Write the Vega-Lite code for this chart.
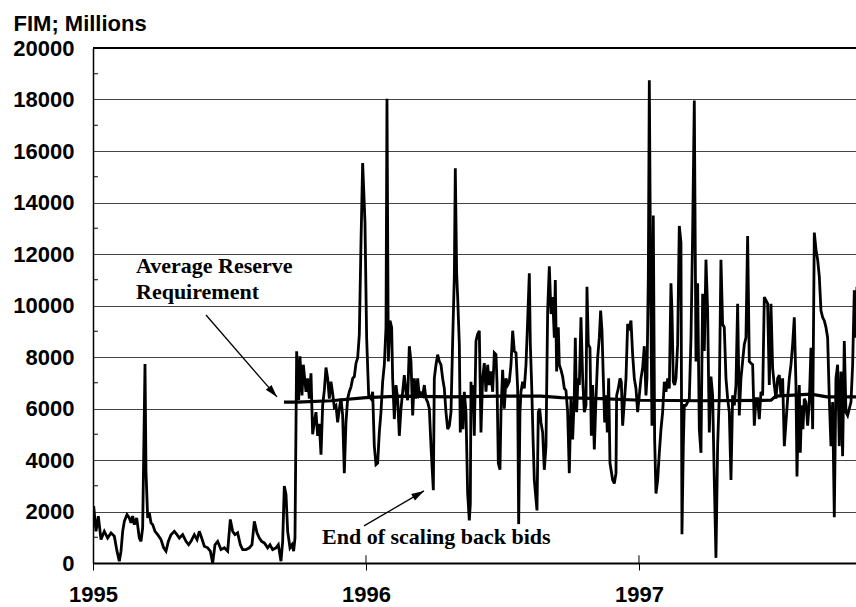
{
  "$schema": "https://vega.github.io/schema/vega-lite/v6.json",
  "autosize": {"type": "none"},
  "padding": {"left": 93, "top": 48, "right": 0, "bottom": 44},
  "width": 763,
  "height": 515,
  "background": "white",
  "config": {"view": {"stroke": null}},
  "datasets": {
    "series": [
      {"t":1995.0025,"v":2210},{"t":1995.011,"v":1230},{"t":1995.0195,"v":1820},{"t":1995.0293,"v":910},{"t":1995.0415,"v":1230},{"t":1995.0537,"v":970},{"t":1995.0659,"v":1170},{"t":1995.0781,"v":1040},{"t":1995.0879,"v":460},{"t":1995.0964,"v":70},{"t":1995.1026,"v":460},{"t":1995.1087,"v":1230},{"t":1995.1148,"v":1620},{"t":1995.1245,"v":1880},{"t":1995.1331,"v":1750},{"t":1995.1392,"v":1560},{"t":1995.1453,"v":1820},{"t":1995.1514,"v":1490},{"t":1995.16,"v":1750},{"t":1995.1697,"v":970},{"t":1995.1758,"v":840},{"t":1995.1819,"v":1360},{"t":1995.1905,"v":7730},{"t":1995.1941,"v":3570},{"t":1995.2003,"v":1750},{"t":1995.2063,"v":1950},{"t":1995.2125,"v":1560},{"t":1995.2186,"v":1490},{"t":1995.2271,"v":1230},{"t":1995.2369,"v":1100},{"t":1995.2491,"v":910},{"t":1995.2589,"v":590},{"t":1995.2674,"v":460},{"t":1995.2759,"v":840},{"t":1995.2857,"v":1100},{"t":1995.2979,"v":1230},{"t":1995.3077,"v":1100},{"t":1995.3162,"v":970},{"t":1995.3285,"v":1100},{"t":1995.3407,"v":840},{"t":1995.3504,"v":710},{"t":1995.359,"v":840},{"t":1995.3712,"v":1100},{"t":1995.381,"v":910},{"t":1995.3895,"v":1230},{"t":1995.3981,"v":970},{"t":1995.4078,"v":650},{"t":1995.42,"v":590},{"t":1995.4298,"v":460},{"t":1995.4384,"v":0},{"t":1995.4469,"v":710},{"t":1995.4567,"v":840},{"t":1995.4689,"v":520},{"t":1995.4811,"v":590},{"t":1995.4933,"v":460},{"t":1995.503,"v":1690},{"t":1995.5116,"v":1230},{"t":1995.5201,"v":1100},{"t":1995.5299,"v":1170},{"t":1995.5397,"v":710},{"t":1995.5482,"v":520},{"t":1995.5604,"v":520},{"t":1995.5726,"v":590},{"t":1995.5824,"v":710},{"t":1995.591,"v":1620},{"t":1995.6007,"v":1170},{"t":1995.6093,"v":970},{"t":1995.6178,"v":840},{"t":1995.6276,"v":780},{"t":1995.6398,"v":590},{"t":1995.6484,"v":710},{"t":1995.6581,"v":520},{"t":1995.6703,"v":590},{"t":1995.6789,"v":710},{"t":1995.6886,"v":70},{"t":1995.6948,"v":840},{"t":1995.7008,"v":2990},{"t":1995.707,"v":2660},{"t":1995.7131,"v":1230},{"t":1995.7216,"v":590},{"t":1995.7289,"v":710},{"t":1995.735,"v":460},{"t":1995.7399,"v":970},
      {"t":1995.746,"v":8220},{"t":1995.7534,"v":6320},{"t":1995.7582,"v":8030},{"t":1995.7656,"v":6510},{"t":1995.7704,"v":7700},{"t":1995.7802,"v":6650},{"t":1995.7863,"v":7170},{"t":1995.7924,"v":6380},{"t":1995.7985,"v":7370},{"t":1995.8046,"v":5000},{"t":1995.8107,"v":5460},{"t":1995.8168,"v":5860},{"t":1995.823,"v":4940},{"t":1995.829,"v":5400},{"t":1995.8352,"v":4210},{"t":1995.8413,"v":6120},{"t":1995.8474,"v":6710},{"t":1995.8535,"v":7590},{"t":1995.8596,"v":7170},{"t":1995.8657,"v":6380},{"t":1995.8718,"v":7040},{"t":1995.8779,"v":6580},{"t":1995.884,"v":6050},{"t":1995.8901,"v":6120},{"t":1995.8962,"v":5460},{"t":1995.9023,"v":5990},{"t":1995.9084,"v":6380},{"t":1995.9145,"v":5730},{"t":1995.9206,"v":3490},{"t":1995.9267,"v":5460},{"t":1995.9328,"v":6380},{"t":1995.9389,"v":6650},{"t":1995.9451,"v":6840},{"t":1995.9512,"v":7170},{"t":1995.9573,"v":7240},{"t":1995.9634,"v":7760},{"t":1995.9695,"v":7960},{"t":1995.9756,"v":8880},{"t":1995.9817,"v":12440},{"t":1995.9878,"v":15530},{"t":1995.9915,"v":14540},{"t":1995.9963,"v":13230},{"t":1996.0024,"v":8750},{"t":1996.0098,"v":6510},{"t":1996.0183,"v":6380},{"t":1996.0244,"v":6650},{"t":1996.0305,"v":4540},{"t":1996.0366,"v":3820},{"t":1996.0428,"v":3880},{"t":1996.0488,"v":5070},{"t":1996.0549,"v":5860},{"t":1996.0611,"v":7040},{"t":1996.0672,"v":7700},{"t":1996.0733,"v":9150},{"t":1996.0769,"v":18030},{"t":1996.0818,"v":7830},{"t":1996.0879,"v":9410},{"t":1996.094,"v":9150},{"t":1996.0977,"v":7170},{"t":1996.1038,"v":5590},{"t":1996.1099,"v":6910},{"t":1996.116,"v":6380},{"t":1996.1221,"v":4940},{"t":1996.1282,"v":5990},{"t":1996.1343,"v":6650},{"t":1996.1404,"v":7300},{"t":1996.1465,"v":6650},{"t":1996.1526,"v":6320},{"t":1996.1587,"v":8420},{"t":1996.1648,"v":7830},{"t":1996.171,"v":5730},{"t":1996.177,"v":7170},{"t":1996.1832,"v":6380},{"t":1996.1893,"v":7170},{"t":1996.1954,"v":6510},{"t":1996.2015,"v":6600},{"t":1996.2076,"v":6510},{"t":1996.2137,"v":6910},{"t":1996.2198,"v":6380},{"t":1996.2259,"v":6250},{"t":1996.232,"v":5990},{"t":1996.2381,"v":4540},{"t":1996.2467,"v":2830},{"t":1996.2503,"v":7170},{"t":1996.2564,"v":7700},{"t":1996.2625,"v":8090},{"t":1996.2686,"v":7830},{"t":1996.2747,"v":7700},{"t":1996.2808,"v":7170},{"t":1996.2869,"v":6780},{"t":1996.293,"v":5860},{"t":1996.2992,"v":5200},{"t":1996.3053,"v":5330},{"t":1996.3114,"v":5860},{"t":1996.3175,"v":8620},{"t":1996.3236,"v":11120},{"t":1996.3272,"v":15330},{"t":1996.3321,"v":11250},{"t":1996.3358,"v":10330},{"t":1996.3419,"v":8490},{"t":1996.3455,"v":5070},{"t":1996.3504,"v":6510},{"t":1996.3553,"v":5200},{"t":1996.3602,"v":6650},{"t":1996.3663,"v":5860},{"t":1996.3724,"v":2700},{"t":1996.3785,"v":1650},{"t":1996.3822,"v":2300},{"t":1996.3846,"v":7040},{"t":1996.3883,"v":5860},{"t":1996.3919,"v":6910},{"t":1996.3968,"v":4940},{"t":1996.4029,"v":8620},{"t":1996.409,"v":8880},{"t":1996.4151,"v":9020},{"t":1996.4212,"v":5070},{"t":1996.4273,"v":7170},{"t":1996.4334,"v":7760},{"t":1996.4396,"v":6650},{"t":1996.4457,"v":7700},{"t":1996.4518,"v":6910},{"t":1996.4579,"v":7440},{"t":1996.464,"v":6650},{"t":1996.4701,"v":8160},{"t":1996.4762,"v":8090},{"t":1996.4799,"v":7040},{"t":1996.4847,"v":3880},{"t":1996.4908,"v":3620},{"t":1996.4945,"v":5860},{"t":1996.5006,"v":7500},{"t":1996.5067,"v":5990},{"t":1996.5128,"v":7170},{"t":1996.5189,"v":6910},{"t":1996.525,"v":7040},{"t":1996.5311,"v":7700},{"t":1996.5373,"v":9020},{"t":1996.5434,"v":8230},{"t":1996.5495,"v":8160},{"t":1996.5556,"v":6780},{"t":1996.5593,"v":1510},{"t":1996.5641,"v":5860},{"t":1996.5678,"v":6650},{"t":1996.5739,"v":7040},{"t":1996.58,"v":6780},{"t":1996.5861,"v":7700},{"t":1996.5922,"v":9410},{"t":1996.5983,"v":11250},{"t":1996.602,"v":8490},{"t":1996.6069,"v":6910},{"t":1996.6117,"v":4940},{"t":1996.6166,"v":3220},{"t":1996.6264,"v":2040},{"t":1996.6313,"v":5860},{"t":1996.6362,"v":5990},{"t":1996.641,"v":5460},{"t":1996.6471,"v":5070},{"t":1996.6532,"v":3620},{"t":1996.6593,"v":4540},{"t":1996.6655,"v":9800},{"t":1996.6716,"v":11520},{"t":1996.6777,"v":9670},{"t":1996.6838,"v":10330},{"t":1996.6899,"v":8750},{"t":1996.6935,"v":10990},{"t":1996.6984,"v":7440},{"t":1996.7045,"v":9150},{"t":1996.7082,"v":7700},{"t":1996.7143,"v":7500},{"t":1996.7204,"v":7240},{"t":1996.7265,"v":6780},{"t":1996.7326,"v":6700},{"t":1996.7387,"v":5860},{"t":1996.7448,"v":3490},{"t":1996.7509,"v":6380},{"t":1996.757,"v":4800},{"t":1996.7631,"v":6510},{"t":1996.7668,"v":8750},{"t":1996.7717,"v":5860},{"t":1996.7766,"v":7170},{"t":1996.7815,"v":6910},{"t":1996.7875,"v":9540},{"t":1996.7937,"v":7170},{"t":1996.7998,"v":5860},{"t":1996.8059,"v":6120},{"t":1996.8095,"v":10730},{"t":1996.8144,"v":8490},{"t":1996.8205,"v":8360},{"t":1996.8254,"v":4940},{"t":1996.8303,"v":6910},{"t":1996.8364,"v":4410},{"t":1996.8425,"v":6380},{"t":1996.8486,"v":7960},{"t":1996.8547,"v":8750},{"t":1996.8596,"v":9800},{"t":1996.8645,"v":9020},{"t":1996.8694,"v":7170},{"t":1996.8743,"v":5460},{"t":1996.8791,"v":6510},{"t":1996.884,"v":5070},{"t":1996.8889,"v":7170},{"t":1996.8938,"v":3880},{"t":1996.8987,"v":3550},{"t":1996.9036,"v":3220},{"t":1996.9097,"v":3090},{"t":1996.9158,"v":3490},{"t":1996.9182,"v":6510},{"t":1996.9243,"v":6780},{"t":1996.9304,"v":7170},{"t":1996.9353,"v":7040},{"t":1996.9402,"v":5330},{"t":1996.9463,"v":6250},{"t":1996.9524,"v":7170},{"t":1996.9585,"v":9280},{"t":1996.9646,"v":9150},{"t":1996.9707,"v":9410},{"t":1996.9768,"v":8090},{"t":1996.9829,"v":7170},{"t":1996.989,"v":6780},{"t":1996.9951,"v":5860},{"t":1997.0012,"v":6510},{"t":1997.0073,"v":7170},{"t":1997.0134,"v":7570},{"t":1997.0195,"v":8420},{"t":1997.0256,"v":6510},{"t":1997.0293,"v":7170},{"t":1997.0342,"v":11120},{"t":1997.0379,"v":18750},{"t":1997.0428,"v":10730},{"t":1997.0476,"v":5330},{"t":1997.0525,"v":13490},{"t":1997.0574,"v":4800},{"t":1997.0623,"v":2700},{"t":1997.0684,"v":3220},{"t":1997.0745,"v":4280},{"t":1997.0806,"v":5200},{"t":1997.0867,"v":5860},{"t":1997.0928,"v":7040},{"t":1997.0989,"v":6650},{"t":1997.105,"v":7170},{"t":1997.1111,"v":6780},{"t":1997.1172,"v":10860},{"t":1997.1209,"v":9800},{"t":1997.1258,"v":7040},{"t":1997.1307,"v":6910},{"t":1997.1355,"v":7170},{"t":1997.1416,"v":8490},{"t":1997.1477,"v":13090},{"t":1997.1538,"v":12440},{"t":1997.1575,"v":1120},{"t":1997.1624,"v":4540},{"t":1997.166,"v":6120},{"t":1997.1722,"v":6120},{"t":1997.1783,"v":6250},{"t":1997.1844,"v":6380},{"t":1997.1905,"v":8750},{"t":1997.1966,"v":12830},{"t":1997.2027,"v":17960},{"t":1997.2088,"v":7830},{"t":1997.2149,"v":10860},{"t":1997.221,"v":5200},{"t":1997.2271,"v":4280},{"t":1997.2332,"v":10460},{"t":1997.2393,"v":8230},{"t":1997.2454,"v":11780},{"t":1997.2515,"v":9800},{"t":1997.2576,"v":5070},{"t":1997.2637,"v":7240},{"t":1997.2698,"v":6510},{"t":1997.2759,"v":3220},{"t":1997.282,"v":200},{"t":1997.2881,"v":4540},{"t":1997.2942,"v":6510},{"t":1997.3003,"v":11780},{"t":1997.3064,"v":9280},{"t":1997.3125,"v":9150},{"t":1997.3187,"v":7170},{"t":1997.3248,"v":6380},{"t":1997.3309,"v":5860},{"t":1997.337,"v":3220},{"t":1997.3431,"v":6510},{"t":1997.3492,"v":6120},{"t":1997.3553,"v":6910},{"t":1997.3614,"v":10070},{"t":1997.3675,"v":5730},{"t":1997.3736,"v":7170},{"t":1997.3797,"v":7830},{"t":1997.3858,"v":8490},{"t":1997.3919,"v":8750},{"t":1997.398,"v":12700},{"t":1997.4041,"v":7830},{"t":1997.4103,"v":7760},{"t":1997.4164,"v":7700},{"t":1997.4225,"v":5330},{"t":1997.4286,"v":6380},{"t":1997.4347,"v":6380},{"t":1997.4408,"v":5590},{"t":1997.4469,"v":6650},{"t":1997.453,"v":6510},{"t":1997.4591,"v":10330},{"t":1997.4652,"v":10200},{"t":1997.4713,"v":10070},{"t":1997.4774,"v":6910},{"t":1997.4835,"v":10070},{"t":1997.4896,"v":7570},{"t":1997.4957,"v":6910},{"t":1997.5018,"v":6380},{"t":1997.5079,"v":7170},{"t":1997.514,"v":7300},{"t":1997.5201,"v":6510},{"t":1997.5263,"v":7170},{"t":1997.5324,"v":4540},{"t":1997.5385,"v":5460},{"t":1997.5446,"v":6380},{"t":1997.5507,"v":7170},{"t":1997.5568,"v":7700},{"t":1997.5629,"v":8490},{"t":1997.569,"v":9540},{"t":1997.5751,"v":6910},{"t":1997.5788,"v":3360},{"t":1997.5836,"v":5860},{"t":1997.5873,"v":6910},{"t":1997.591,"v":4280},{"t":1997.5959,"v":6120},{"t":1997.6007,"v":5200},{"t":1997.6056,"v":6380},{"t":1997.6117,"v":6250},{"t":1997.6178,"v":5330},{"t":1997.624,"v":6250},{"t":1997.6301,"v":8360},{"t":1997.6362,"v":5200},{"t":1997.6423,"v":12830},{"t":1997.6484,"v":12170},{"t":1997.6545,"v":11780},{"t":1997.6606,"v":11120},{"t":1997.6667,"v":9800},{"t":1997.6728,"v":9540},{"t":1997.6789,"v":9410},{"t":1997.685,"v":9150},{"t":1997.6911,"v":8750},{"t":1997.6972,"v":6380},{"t":1997.7033,"v":4540},{"t":1997.7094,"v":6250},{"t":1997.7155,"v":1780},{"t":1997.7216,"v":7170},{"t":1997.7277,"v":7700},{"t":1997.7338,"v":4540},{"t":1997.7399,"v":7440},{"t":1997.746,"v":4150},{"t":1997.7521,"v":8620},{"t":1997.7582,"v":5860},{"t":1997.7643,"v":5730},{"t":1997.7704,"v":5990},{"t":1997.7766,"v":6250},{"t":1997.7827,"v":7700},{"t":1997.7888,"v":10590},{"t":1997.7949,"v":8750},{"t":1997.7985,"v":10730}
    ],
    "avg": [
      {"t":1995.6996,"v":6250},{"t":1995.7473,"v":6250},{"t":1995.8718,"v":6300},{"t":1996.0,"v":6420},{"t":1996.1282,"v":6480},{"t":1996.3114,"v":6450},{"t":1996.4945,"v":6480},{"t":1996.641,"v":6480},{"t":1996.7143,"v":6420},{"t":1996.8608,"v":6380},{"t":1997.0073,"v":6320},{"t":1997.2271,"v":6300},{"t":1997.4835,"v":6320},{"t":1997.5018,"v":6480},{"t":1997.6301,"v":6560},{"t":1997.6886,"v":6450},{"t":1997.7985,"v":6450}
    ],
    "minorTicks": [
      {"t":1995,"t2":1995.018,"v":1000},{"t":1995,"t2":1995.018,"v":3000},{"t":1995,"t2":1995.018,"v":5000},{"t":1995,"t2":1995.018,"v":7000},{"t":1995,"t2":1995.018,"v":9000},{"t":1995,"t2":1995.018,"v":11000},{"t":1995,"t2":1995.018,"v":13000},{"t":1995,"t2":1995.018,"v":15000},{"t":1995,"t2":1995.018,"v":17000},{"t":1995,"t2":1995.018,"v":19000}
    ],
    "innerXTicks": [
      {"t":1996,"v":0,"v2":300},{"t":1997,"v":0,"v2":300}
    ],
    "arrows": [
      {"t":1995.4139,"v":9630,"t2":1995.674,"v2":6450},
      {"t":1995.9927,"v":1440,"t2":1996.2125,"v2":2800}
    ],
    "labels": [
      {"t":1995.1575,"v":11250,"label":"Average Reserve"},
      {"t":1995.1575,"v":10250,"label":"Requirement"},
      {"t":1995.8388,"v":740,"label":"End of scaling back bids"}
    ]
  },
  "layer": [
    {
      "data": {"name": "series"},
      "mark": {"type": "line", "color": "black", "strokeWidth": 2.8, "clip": true, "strokeJoin": "miter", "strokeMiterLimit": 3},
      "encoding": {
        "x": {
          "field": "t", "type": "quantitative",
          "scale": {"domain": [1995, 1997.795], "nice": false, "zero": false},
          "axis": {
            "title": null, "values": [1995, 1996, 1997], "format": "d",
            "grid": false, "domainColor": "black", "domainWidth": 2,
            "ticks": true, "tickColor": "black", "tickSize": 7, "tickWidth": 1,
            "labelFont": "Liberation Sans", "labelFontWeight": "bold", "labelFontSize": 22,
            "labelColor": "black", "labelPadding": 14, "labelFlush": false, "labelOverlap": false, "labelBound": false
          }
        },
        "y": {
          "field": "v", "type": "quantitative",
          "scale": {"domain": [0, 20000], "nice": false, "zero": true},
          "axis": {
            "title": "FIM; Millions", "titleAngle": 0, "titleAlign": "left", "titleBaseline": "alphabetic",
            "titleX": -80, "titleY": -18, "titleFont": "Liberation Sans", "titleFontWeight": "bold",
            "titleFontSize": 22, "titleColor": "black",
            "values": [0, 2000, 4000, 6000, 8000, 10000, 12000, 14000, 16000, 18000, 20000],
            "format": "d", "grid": true, "gridColor": "#444444", "gridWidth": 1,
            "domainColor": "black", "domainWidth": 1.5, "ticks": false, "tickSize": 0,
            "labelFont": "Liberation Sans", "labelFontWeight": "bold", "labelFontSize": 22,
            "labelColor": "black", "labelPadding": 19, "labelOverlap": false, "labelBound": false, "labelFlush": false
          }
        }
      }
    },
    {
      "data": {"name": "avg"},
      "mark": {"type": "line", "color": "black", "strokeWidth": 3.2, "clip": true},
      "encoding": {
        "x": {"field": "t", "type": "quantitative"},
        "y": {"field": "v", "type": "quantitative"}
      }
    },
    {
      "data": {"values": [{"v": 20000}]},
      "mark": {"type": "rule", "color": "black", "strokeWidth": 2.2},
      "encoding": {"y": {"field": "v", "type": "quantitative"}}
    },
    {
      "data": {"name": "minorTicks"},
      "mark": {"type": "rule", "color": "black", "strokeWidth": 1},
      "encoding": {
        "x": {"field": "t", "type": "quantitative"},
        "x2": {"field": "t2"},
        "y": {"field": "v", "type": "quantitative"}
      }
    },
    {
      "data": {"name": "innerXTicks"},
      "mark": {"type": "rule", "color": "black", "strokeWidth": 1},
      "encoding": {
        "x": {"field": "t", "type": "quantitative"},
        "y": {"field": "v", "type": "quantitative"},
        "y2": {"field": "v2"}
      }
    },
    {
      "data": {"name": "arrows"},
      "mark": {"type": "rule", "color": "black", "strokeWidth": 1.3},
      "encoding": {
        "x": {"field": "t", "type": "quantitative"},
        "y": {"field": "v", "type": "quantitative"},
        "x2": {"field": "t2"},
        "y2": {"field": "v2"}
      }
    },
    {
      "data": {"values": [{"t": 1995.674, "v": 6450}]},
      "mark": {"type": "point", "shape": "M0,0L0.6,2L-0.6,2Z", "size": 160, "angle": 139, "filled": true, "color": "black", "opacity": 1},
      "encoding": {
        "x": {"field": "t", "type": "quantitative"},
        "y": {"field": "v", "type": "quantitative"}
      }
    },
    {
      "data": {"values": [{"t": 1996.2125, "v": 2800}]},
      "mark": {"type": "point", "shape": "M0,0L0.6,2L-0.6,2Z", "size": 160, "angle": 60, "filled": true, "color": "black", "opacity": 1},
      "encoding": {
        "x": {"field": "t", "type": "quantitative"},
        "y": {"field": "v", "type": "quantitative"}
      }
    },
    {
      "data": {"name": "labels"},
      "mark": {"type": "text", "align": "left", "baseline": "alphabetic", "font": "Liberation Serif", "fontWeight": "bold", "fontSize": 22, "color": "black"},
      "encoding": {
        "x": {"field": "t", "type": "quantitative"},
        "y": {"field": "v", "type": "quantitative"},
        "text": {"field": "label"}
      }
    }
  ]
}
